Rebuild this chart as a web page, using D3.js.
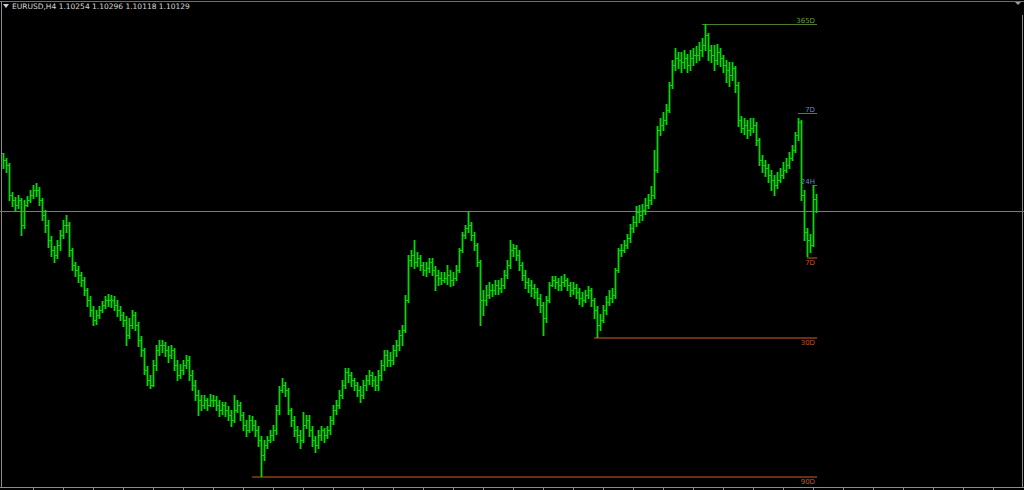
<!DOCTYPE html>
<html>
<head>
<meta charset="utf-8">
<script src="https://cdn.jsdelivr.net/npm/d3@7/dist/d3.min.js"></script>
<style>
  html, body { margin: 0; padding: 0; background: #000; overflow: hidden; }
  svg { display: block; }
</style>
</head>
<body>
<script>
// ---- data (EURUSD, H4) ----
const symbol = "EURUSD,H4";
const headerQuote = ["1.10254", "1.10296", "1.10118", "1.10129"];
const bidPrice = 1.10129;
const firstOpen = 1.1071;

const closes = [
 1.1064,1.1059,1.1029,1.1024,1.1019,1.1024,1.0999,1.1019,1.1024,1.1029,
 1.1034,1.1034,1.1024,1.1009,1.0999,1.0984,1.0974,1.0969,1.0979,1.0989,
 1.0999,1.0999,1.0974,1.0959,1.0954,1.0949,1.0944,1.0934,1.0924,1.0914,
 1.0904,1.0909,1.0914,1.0919,1.0924,1.0924,1.0924,1.0919,1.0914,1.0909,
 1.0904,1.0889,1.0899,1.0909,1.0899,1.0884,1.0874,1.0854,1.0844,1.0839,
 1.0859,1.0874,1.0879,1.0879,1.0874,1.0869,1.0874,1.0859,1.0849,1.0854,
 1.0859,1.0864,1.0849,1.0839,1.0829,1.0824,1.0819,1.0824,1.0819,1.0824,
 1.0824,1.0819,1.0814,1.0819,1.0814,1.0809,1.0804,1.0814,1.0819,1.0809,
 1.0799,1.0794,1.0804,1.0799,1.0794,1.0784,1.0769,1.0779,1.0784,1.0789,
 1.0794,1.0814,1.0834,1.0839,1.0834,1.0814,1.0804,1.0794,1.0789,1.0784,
 1.0799,1.0804,1.0794,1.0784,1.0779,1.0789,1.0794,1.0789,1.0794,1.0804,
 1.0814,1.0819,1.0829,1.0839,1.0852,1.0849,1.0844,1.0839,1.0834,1.0829,
 1.0839,1.0844,1.0849,1.0844,1.0839,1.0849,1.0859,1.0869,1.0864,1.0864,
 1.0874,1.0879,1.0889,1.0894,1.0924,1.0964,1.0969,1.0962,1.0966,1.0959,
 1.0954,1.0956,1.0962,1.0954,1.0949,1.0946,1.0944,1.0946,1.0949,1.0944,
 1.0946,1.0954,1.0974,1.0989,1.0996,1.0999,1.0989,1.0979,1.0962,1.0924,
 1.0924,1.0929,1.0934,1.0934,1.0939,1.0936,1.0939,1.0949,1.0959,1.0974,
 1.0976,1.0969,1.0959,1.0949,1.0942,1.0939,1.0936,1.0932,1.0926,1.0919,
 1.0906,1.0924,1.0939,1.0944,1.0942,1.0939,1.0942,1.0944,1.0939,1.0934,
 1.0936,1.0932,1.0926,1.0924,1.0929,1.0934,1.0924,1.0914,1.0899,1.0904,
 1.0914,1.0922,1.0926,1.0929,1.0954,1.0974,1.0974,1.0979,1.0986,1.0996,
 1.1002,1.1012,1.1009,1.1014,1.1019,1.1024,1.1029,1.1054,1.1094,1.1099,
 1.1104,1.1114,1.1139,1.1159,1.1166,1.1164,1.1162,1.1166,1.1159,1.1166,
 1.1169,1.1169,1.1174,1.1179,1.1189,1.1174,1.1169,1.1164,1.1172,1.1166,
 1.1159,1.1154,1.1149,1.1156,1.1139,1.1104,1.1096,1.1099,1.1094,1.1096,
 1.1099,1.1084,1.1064,1.1059,1.1056,1.1049,1.1044,1.1039,1.1044,1.1049,
 1.1054,1.1059,1.1066,1.1074,1.1089,1.1102,1.1029,1.0992,1.0984,1.0979,
 1.10254,1.10129
];
const highs = [
 1.1071,1.1066,1.1061,1.1032,1.1027,1.1029,1.1026,1.1024,1.1028,1.1034,
 1.1039,1.1041,1.1037,1.1026,1.1014,1.1004,1.0988,1.0978,1.0984,1.0994,
 1.1004,1.1009,1.1002,1.0976,1.0962,1.0958,1.0952,1.0947,1.0936,1.0928,
 1.0918,1.0914,1.0918,1.0923,1.0928,1.0930,1.0929,1.0928,1.0924,1.0918,
 1.0912,1.0908,1.0906,1.0914,1.0912,1.0902,1.0888,1.0876,1.0858,1.0849,
 1.0864,1.0879,1.0884,1.0884,1.0882,1.0878,1.0879,1.0876,1.0864,1.0860,
 1.0864,1.0869,1.0868,1.0854,1.0844,1.0834,1.0829,1.0829,1.0826,1.0830,
 1.0829,1.0828,1.0824,1.0822,1.0822,1.0818,1.0814,1.0829,1.0824,1.0822,
 1.0812,1.0804,1.0809,1.0808,1.0804,1.0798,1.0788,1.0784,1.0788,1.0794,
 1.0799,1.0819,1.0838,1.0846,1.0842,1.0836,1.0816,1.0808,1.0798,1.0794,
 1.0812,1.0809,1.0809,1.0798,1.0788,1.0794,1.0798,1.0796,1.0798,1.0808,
 1.0819,1.0824,1.0834,1.0844,1.0856,1.0856,1.0852,1.0846,1.0842,1.0838,
 1.0844,1.0849,1.0854,1.0852,1.0848,1.0854,1.0864,1.0874,1.0874,1.0872,
 1.0879,1.0884,1.0894,1.0899,1.0929,1.0969,1.0974,1.0984,1.0972,1.0969,
 1.0962,1.0962,1.0966,1.0966,1.0958,1.0954,1.0952,1.0952,1.0959,1.0954,
 1.0952,1.0959,1.0976,1.0992,1.0999,1.1013,1.1002,1.0992,1.0981,1.0964,
 1.0934,1.0939,1.0942,1.0940,1.0944,1.0944,1.0946,1.0954,1.0964,1.0984,
 1.0980,1.0979,1.0974,1.0962,1.0954,1.0946,1.0944,1.0940,1.0936,1.0930,
 1.0922,1.0928,1.0942,1.0948,1.0948,1.0946,1.0948,1.0950,1.0946,1.0942,
 1.0942,1.0940,1.0936,1.0932,1.0934,1.0938,1.0936,1.0926,1.0918,1.0910,
 1.0919,1.0928,1.0934,1.0936,1.0956,1.0976,1.0980,1.0984,1.0990,1.1000,
 1.1008,1.1018,1.1019,1.1020,1.1026,1.1030,1.1038,1.1074,1.1098,1.1106,
 1.1112,1.1120,1.1142,1.1164,1.1176,1.1172,1.1172,1.1174,1.1170,1.1174,
 1.1176,1.1178,1.1182,1.1186,1.1200,1.1191,1.1179,1.1179,1.1180,1.1176,
 1.1169,1.1164,1.1162,1.1162,1.1158,1.1142,1.1108,1.1106,1.1104,1.1106,
 1.1106,1.1102,1.1086,1.1069,1.1064,1.1060,1.1054,1.1049,1.1052,1.1056,
 1.1062,1.1066,1.1072,1.1079,1.1092,1.1106,1.1104,1.1034,1.0996,1.0990,
 1.1039,1.10296
];
const lows = [
 1.1056,1.1052,1.1024,1.1018,1.1014,1.1016,1.0989,1.0996,1.1018,1.1022,
 1.1026,1.1028,1.1019,1.1004,1.0992,1.0977,1.0968,1.0962,1.0966,1.0974,
 1.0986,1.0992,1.0968,1.0954,1.0948,1.0942,1.0938,1.0929,1.0918,1.0908,
 1.0899,1.0900,1.0906,1.0912,1.0916,1.0918,1.0917,1.0914,1.0908,1.0904,
 1.0898,1.0879,1.0886,1.0896,1.0894,1.0878,1.0868,1.0850,1.0839,1.0836,
 1.0838,1.0854,1.0869,1.0872,1.0868,1.0862,1.0866,1.0854,1.0844,1.0846,
 1.0850,1.0856,1.0844,1.0834,1.0824,1.0809,1.0814,1.0816,1.0814,1.0818,
 1.0818,1.0814,1.0808,1.0810,1.0808,1.0804,1.0798,1.0802,1.0812,1.0804,
 1.0794,1.0788,1.0792,1.0794,1.0788,1.0778,1.0748,1.0764,1.0776,1.0782,
 1.0784,1.0790,1.0810,1.0832,1.0828,1.0810,1.0798,1.0788,1.0782,1.0776,
 1.0782,1.0796,1.0788,1.0778,1.0772,1.0776,1.0784,1.0782,1.0786,1.0790,
 1.0800,1.0810,1.0816,1.0826,1.0836,1.0842,1.0838,1.0834,1.0828,1.0822,
 1.0826,1.0834,1.0840,1.0838,1.0834,1.0834,1.0844,1.0854,1.0858,1.0858,
 1.0860,1.0868,1.0874,1.0879,1.0892,1.0922,1.0958,1.0956,1.0958,1.0954,
 1.0949,1.0948,1.0952,1.0949,1.0934,1.0939,1.0940,1.0942,1.0940,1.0938,
 1.0939,1.0944,1.0952,1.0972,1.0986,1.0992,1.0984,1.0974,1.0958,1.0899,
 1.0909,1.0919,1.0926,1.0928,1.0930,1.0930,1.0932,1.0936,1.0946,1.0956,
 1.0968,1.0964,1.0954,1.0944,1.0936,1.0932,1.0928,1.0926,1.0919,1.0912,
 1.0889,1.0902,1.0922,1.0938,1.0936,1.0934,1.0934,1.0938,1.0934,1.0928,
 1.0930,1.0926,1.0920,1.0918,1.0922,1.0926,1.0918,1.0906,1.0887,1.0894,
 1.0902,1.0910,1.0919,1.0922,1.0926,1.0952,1.0968,1.0972,1.0976,1.0982,
 1.0992,1.0998,1.1002,1.1004,1.1010,1.1016,1.1020,1.1026,1.1052,1.1089,
 1.1094,1.1100,1.1112,1.1136,1.1154,1.1156,1.1152,1.1156,1.1152,1.1154,
 1.1159,1.1162,1.1164,1.1168,1.1174,1.1164,1.1162,1.1154,1.1160,1.1158,
 1.1152,1.1142,1.1138,1.1144,1.1132,1.1098,1.1092,1.1090,1.1086,1.1089,
 1.1092,1.1079,1.1059,1.1052,1.1048,1.1042,1.1034,1.1029,1.1036,1.1042,
 1.1046,1.1052,1.1056,1.1064,1.1072,1.1084,1.1024,1.0984,1.0968,1.0972,
 1.0978,1.10118
];

// High / low reference levels
const levelLabels = ["365D", "7D", "24H", "7D", "30D", "90D"];
const levelPrices = [1.1200, 1.1111, 1.1039, 1.0967, 1.0887, 1.0748];
const levelStart  = [233, 265, 270, 268, 197, 83];
const levelKind   = ["yearHigh", "high", "high", "low", "low", "low"];

// time-axis tick bar indices
const tickBars = [10, 20, 30, 40, 50, 60, 70, 80, 90, 100, 110, 120, 130, 140, 150, 160, 170, 180, 190, 200, 210, 220, 230, 240, 250, 260, 270, 280, 290, 300, 310, 320, 330];

// ---- drawing ----
const W = 1024, H = 490;
const svg = d3.select("body").append("svg").attr("width", W).attr("height", H)
  .style("font-family", "Tahoma, 'DejaVu Sans', sans-serif");

svg.append("rect").attr("width", W).attr("height", H).attr("fill", "#000");

const n = closes.length;
const x = d3.scaleLinear().domain([0, n - 1]).range([3, 816]);
const y = d3.scaleLinear().domain([1.0734, 1.1224]).range([490, 0]);

const bars = closes.map((c, i) => ({
  o: i === 0 ? firstOpen : closes[i - 1], h: highs[i], l: lows[i], c
}));

const px = v => Math.round(v) + 0.5;

// frame
const frame = svg.append("g").attr("stroke", "#8c8c8c").attr("stroke-width", 1).attr("shape-rendering", "crispEdges");
frame.append("line").attr("x1", 0).attr("x2", W).attr("y1", 1.5).attr("y2", 1.5).attr("stroke", "#6e6e6e");
frame.append("line").attr("x1", 1.5).attr("x2", 1.5).attr("y1", 1).attr("y2", 488);
frame.append("line").attr("x1", 0).attr("x2", W).attr("y1", 487.5).attr("y2", 487.5);
frame.append("line").attr("x1", 1022.5).attr("x2", 1022.5).attr("y1", 15).attr("y2", 488);

// bottom time ticks
const xAxis = d3.axisBottom(x).tickValues(tickBars).tickSize(3).tickFormat("");
const ax = svg.append("g").attr("transform", "translate(0,487)").call(xAxis);
ax.select(".domain").remove();
ax.selectAll("line").attr("stroke", "#8c8c8c");

// bid line
svg.append("line").attr("x1", 0).attr("x2", W)
  .attr("y1", px(y(bidPrice))).attr("y2", px(y(bidPrice)))
  .attr("stroke", "#7a7a7a").attr("stroke-width", 1).attr("shape-rendering", "crispEdges");

// levels
const levelColor = { yearHigh: "#4f7d30", high: "#3f74a8", low: "#6a2e14" };
const textColor = { yearHigh: "#6a9a45", high: "#5a8fcb", low: "#c4552a" };
const lg = svg.append("g").attr("shape-rendering", "crispEdges");
levelPrices.forEach((p, k) => {
  const yy = px(y(p));
  const kind = levelKind[k];
  lg.append("line").attr("x1", x(levelStart[k])).attr("x2", 817)
    .attr("y1", yy).attr("y2", yy)
    .attr("stroke", levelColor[kind]).attr("stroke-width", kind === "low" ? 2 : 1);
  const isLow = kind === "low";
  svg.append("text").attr("x", 815).attr("y", isLow ? yy + 7 : yy - 2)
    .attr("text-anchor", "end").attr("font-size", 7)
    .attr("fill", textColor[kind]).text(levelLabels[k]);
});

// OHLC bars
const bg = svg.append("g").attr("stroke-width", 1);
bars.forEach((b, i) => {
  const xx = Math.round(x(i));
  bg.append("line").attr("x1", xx + 0.5).attr("x2", xx + 0.5)
    .attr("y1", Math.round(y(b.h))).attr("y2", Math.round(y(b.l)) + 1)
    .attr("stroke", "#00dc00").attr("stroke-width", 1.8);
  bg.append("line").attr("x1", xx - 1).attr("x2", xx + 1).attr("y1", px(y(b.o))).attr("y2", px(y(b.o)))
    .attr("stroke", "#10d010").attr("shape-rendering", "crispEdges");
  bg.append("line").attr("x1", xx).attr("x2", xx + 2).attr("y1", px(y(b.c))).attr("y2", px(y(b.c)))
    .attr("stroke", "#10d010").attr("shape-rendering", "crispEdges");
});

// header
svg.append("path").attr("d", "M3,4 L9,4 L6,8 Z").attr("fill", "#d0d0d0");
svg.append("text").attr("x", 12).attr("y", 9).attr("font-size", 7.5).attr("fill", "#d8d8d8")
  .text(symbol + "  " + headerQuote.join(" "));

// top-right shift marker
svg.append("path").attr("d", "M1015,2 L1021,2 L1018,5 Z").attr("fill", "#9a9a9a");
</script>
</body>
</html>
